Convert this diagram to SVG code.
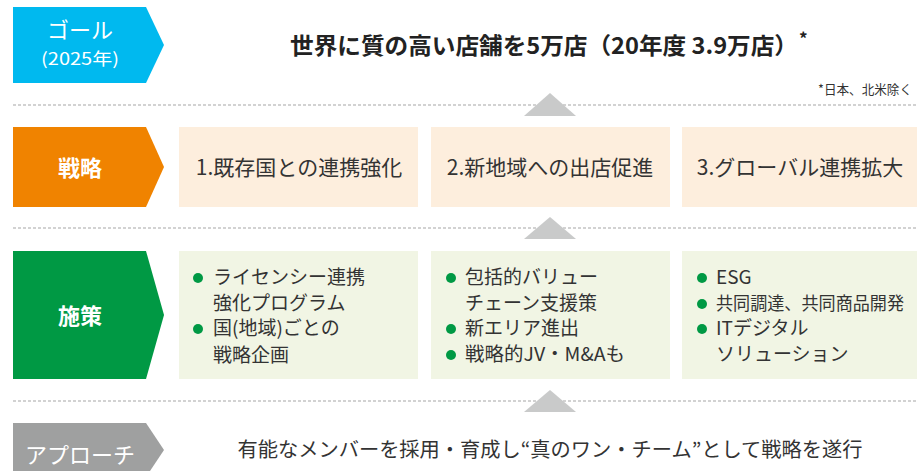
<svg xmlns="http://www.w3.org/2000/svg" width="917" height="471" viewBox="0 0 917 471">
<style>
text{font-family:"Noto Sans CJK JP","Noto Sans",sans-serif;}
.lbl{fill:#fff;font-size:22px;text-anchor:middle;}
.card1{fill:#FDEEDD;}
.card2{fill:#F1F5E4;}
.ct{fill:#333;font-size:21px;text-anchor:middle;}
.mt{fill:#333;font-size:19px;}
.dot{fill:#009944;}
.sep{stroke:#C4C4C4;stroke-width:1.3;stroke-dasharray:3 2;fill:none;}
.tri{fill:#C9CACA;}
</style>
<g id="connectors">
<line class="sep" x1="13" y1="105" x2="917" y2="105"/>
<line class="sep" x1="13" y1="228" x2="917" y2="228"/>
<line class="sep" x1="13" y1="401" x2="917" y2="401"/>
<polygon class="tri" points="550,93 576,116 524,116"/>
<polygon class="tri" points="550,217 576,239 524,239"/>
<polygon class="tri" points="550,390 576,412 524,412"/>
</g>
<g id="goal">
<polygon fill="#00B9EF" points="13,7 146,7 164,45 146,83 13,83"/>
<text class="lbl" x="80" y="38" style="font-size:22px">ゴール</text>
<text class="lbl" x="80" y="65" style="font-size:17px" textLength="78" lengthAdjust="spacingAndGlyphs">(2025年)</text>
<text x="290" y="54" fill="#222" font-size="23" font-weight="bold" textLength="508" lengthAdjust="spacingAndGlyphs">世界に質の高い店舗を5万店（20年度 3.9万店）</text>
<text x="799" y="45" fill="#222" font-size="17" font-weight="bold">*</text>
<text x="912" y="94" fill="#333" font-size="13" text-anchor="end" textLength="94" lengthAdjust="spacingAndGlyphs">*日本、北米除く</text>
</g>
<g id="strategy">
<polygon fill="#F08300" points="13,127 146,127 164,167 146,207 13,207"/>
<text class="lbl" x="80" y="176" font-weight="bold">戦略</text>
</g>
<g id="strategy-1">
<rect class="card1" x="179" y="127" width="239" height="80"/>
<text class="ct" x="299" y="175">1.既存国との連携強化</text>
</g>
<g id="strategy-2">
<rect class="card1" x="431" y="127" width="239" height="80"/>
<text class="ct" x="550" y="175">2.新地域への出店促進</text>
</g>
<g id="strategy-3">
<rect class="card1" x="682" y="127" width="235" height="80"/>
<text class="ct" x="800" y="175">3.グローバル連携拡大</text>
</g>
<g id="measures">
<polygon fill="#009944" points="13,251 146,251 164,315 146,379 13,379"/>
<text class="lbl" x="80" y="324" font-weight="bold">施策</text>
</g>
<g id="measures-1">
<rect class="card2" x="179" y="251" width="239" height="128"/>
<circle class="dot" cx="198" cy="278" r="5"/>
<circle class="dot" cx="198" cy="329" r="5"/>
<text class="mt" x="213" y="284">ライセンシー連携</text>
<text class="mt" x="213" y="310">強化プログラム</text>
<text class="mt" x="213" y="335">国(地域)ごとの</text>
<text class="mt" x="213" y="362">戦略企画</text>
</g>
<g id="measures-2">
<rect class="card2" x="431" y="251" width="239" height="128"/>
<circle class="dot" cx="451" cy="278" r="5"/>
<circle class="dot" cx="451" cy="329" r="5"/>
<circle class="dot" cx="451" cy="355" r="5"/>
<text class="mt" x="465" y="284">包括的バリュー</text>
<text class="mt" x="465" y="310">チェーン支援策</text>
<text class="mt" x="465" y="335">新エリア進出</text>
<text class="mt" x="465" y="361" textLength="160" lengthAdjust="spacingAndGlyphs">戦略的JV・M&amp;Aも</text>
</g>
<g id="measures-3">
<rect class="card2" x="682" y="251" width="235" height="128"/>
<circle class="dot" cx="702" cy="278" r="5"/>
<circle class="dot" cx="702" cy="304" r="5"/>
<circle class="dot" cx="702" cy="329" r="5"/>
<text class="mt" x="716" y="284">ESG</text>
<text class="mt" x="716" y="310" style="font-size:18px" textLength="188" lengthAdjust="spacingAndGlyphs">共同調達、共同商品開発</text>
<text class="mt" x="716" y="335">ITデジタル</text>
<text class="mt" x="716" y="361">ソリューション</text>
</g>
<g id="approach">
<polygon fill="#9FA0A0" points="13,423 146,423 164,450 146,477 13,477"/>
<text class="lbl" x="80" y="463">アプローチ</text>
<text x="550" y="457" fill="#333" font-size="20" text-anchor="middle" textLength="625" lengthAdjust="spacingAndGlyphs">有能なメンバーを採用・育成し“真のワン・チーム”として戦略を遂行</text>
</g>
</svg>
